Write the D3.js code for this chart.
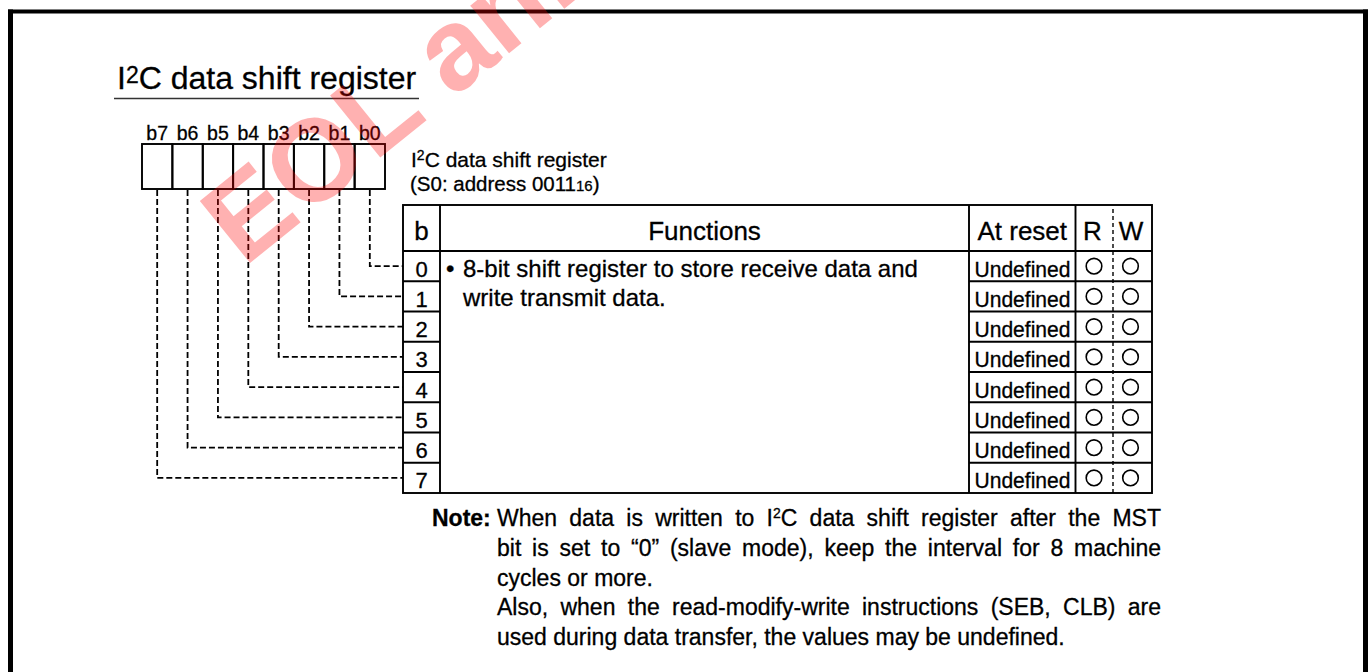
<!DOCTYPE html>
<html><head><meta charset="utf-8">
<script src="https://cdn.jsdelivr.net/npm/d3@7"></script>
<style>
html,body{margin:0;padding:0;background:#fff;}
svg{display:block;}
text{font-family:"Liberation Sans",Arial,Helvetica,sans-serif;fill:#000;stroke:#000;stroke-width:0.3px;}
text.wm{stroke:none;}
</style></head><body>
<svg id="chart" width="1372" height="672"></svg>
<script>
// ---------- data ----------
const titleText = ["I","2","C data shift register"];
const bitNames = ["b7","b6","b5","b4","b3","b2","b1","b0"];
const rowBits = ["0","1","2","3","4","5","6","7"];
const headerLabels = ["b","Functions","At reset","R","W"];
const atReset = ["Undefined","Undefined","Undefined","Undefined","Undefined","Undefined","Undefined","Undefined"];
const readMarks = [true,true,true,true,true,true,true,true];
const writeMarks = [true,true,true,true,true,true,true,true];
const registerName = "I²C data shift register";
const registerAddress = ["(S0: address 0011","16",")"];
const functionLines = ["8-bit shift register to store receive data and","write transmit data."];
const noteLabel = "Note:";
const noteLines = [
  "When data is written to I²C data shift register after the MST",
  "bit is set to \u201C0\u201D (slave mode), keep the interval for 8 machine",
  "cycles or more.",
  "Also, when the read-modify-write instructions (SEB, CLB) are",
  "used during data transfer, the values may be undefined."
];
const noteJustified = [true,true,false,true,false];
const watermark = "EOL announced";

// ---------- layout ----------
const svg = d3.select("#chart");
const W = 1372, H = 672;

const xBit = d3.scaleBand().domain(bitNames).range([142, 385]);
const yRow = d3.scaleBand().domain(rowBits).range([251, 493]);
const colX = {left:403, b:440, func:969, reset:1075.5, rw:1113, right:1152};
const tableTop = 205, headerBottom = 251;

function rich(sel, str, supSize, shift){
  const parts = str.split("²");
  parts.forEach((p,i)=>{
    if(i>0){
      sel.append("tspan").attr("dy",-shift).attr("font-size",supSize).text("2");
      sel.append("tspan").attr("dy",shift).text(p);
    } else sel.append("tspan").text(p);
  });
}

// frame
const frame = svg.append("g").attr("stroke","#000").attr("fill","none");
frame.append("line").attr("x1",10.5).attr("x2",10.5).attr("y1",9.5).attr("y2",H).attr("stroke-width",5);
frame.append("line").attr("x1",8).attr("x2",1368).attr("y1",11.5).attr("y2",11.5).attr("stroke-width",4);
frame.append("line").attr("x1",1365.5).attr("x2",1365.5).attr("y1",9.5).attr("y2",H).attr("stroke-width",5);

// title
const title = svg.append("text").attr("x",117).attr("y",89).attr("font-size",32);
title.append("tspan").text(titleText[0]);
title.append("tspan").attr("dy",-6).attr("font-size",23).text(titleText[1]);
title.append("tspan").attr("dy",6).text(titleText[2]);
svg.append("line").attr("x1",114).attr("x2",419).attr("y1",98.5).attr("y2",98.5)
  .attr("stroke","#333").attr("stroke-width",1.3);

// bit boxes
svg.append("g").selectAll("text").data(bitNames).join("text")
  .attr("x",d=>xBit(d)+xBit.bandwidth()/2).attr("y",140)
  .attr("text-anchor","middle").attr("font-size",19.5).text(d=>d);
svg.append("g").selectAll("rect").data(bitNames).join("rect")
  .attr("x",d=>xBit(d)).attr("y",144).attr("width",xBit.bandwidth()).attr("height",45)
  .attr("fill","none").attr("stroke","#000").attr("stroke-width",1.9);

// register label
const rl = svg.append("text").attr("x",411).attr("y",167).attr("font-size",21);
rich(rl, registerName, 14, 7);
const ra = svg.append("text").attr("x",410).attr("y",191).attr("font-size",20.5);
ra.append("tspan").text(registerAddress[0]);
ra.append("tspan").attr("font-size",15).text(registerAddress[1]);
ra.append("tspan").text(registerAddress[2]);

// connectors
svg.append("g").selectAll("path").data(rowBits).join("path")
  .attr("d",d=>{
    const x = xBit("b"+d)+xBit.bandwidth()/2;
    const y = yRow(d)+yRow.bandwidth()/2;
    return `M${x},190 V${y} H${colX.left}`;
  })
  .attr("fill","none").attr("stroke","#000").attr("stroke-width",1.8).attr("stroke-dasharray","6,3");

// table
const tg = svg.append("g").attr("stroke","#000").attr("stroke-width",1.9).attr("fill","none");
tg.append("rect").attr("x",colX.left).attr("y",tableTop).attr("width",colX.right-colX.left).attr("height",493-tableTop);
tg.append("line").attr("x1",colX.left).attr("x2",colX.right).attr("y1",headerBottom).attr("y2",headerBottom);
[colX.b, colX.func, colX.reset].forEach(x=>{
  tg.append("line").attr("x1",x).attr("x2",x).attr("y1",tableTop).attr("y2",493);
});
tg.append("line").attr("x1",colX.rw).attr("x2",colX.rw).attr("y1",tableTop+4).attr("y2",493)
  .attr("stroke-width",1.4).attr("stroke-dasharray","4,3");
tg.selectAll("line.rowb").data(rowBits.slice(1)).join("line").attr("class","rowb")
  .attr("x1",colX.left).attr("x2",colX.b).attr("y1",d=>yRow(d)).attr("y2",d=>yRow(d));
tg.selectAll("line.rowr").data(rowBits.slice(1)).join("line").attr("class","rowr")
  .attr("x1",colX.func).attr("x2",colX.right).attr("y1",d=>yRow(d)).attr("y2",d=>yRow(d));

// header
const headerX = [(colX.left+colX.b)/2, (colX.b+colX.func)/2, (colX.func+colX.reset)/2, 1092.5, 1131];
svg.append("g").selectAll("text").data(headerLabels).join("text")
  .attr("x",(d,i)=>headerX[i]).attr("y",240).attr("text-anchor","middle").attr("font-size",26).text(d=>d);

// rows
svg.append("g").selectAll("text").data(rowBits).join("text")
  .attr("x",(colX.left+colX.b)/2).attr("y",d=>yRow(d)+25.5).attr("text-anchor","middle")
  .attr("font-size",22).text(d=>d);
svg.append("g").selectAll("text").data(atReset).join("text")
  .attr("x",974.5).attr("y",(d,i)=>yRow(rowBits[i])+25.5).attr("font-size",21.5)
  .attr("textLength",96).attr("lengthAdjust","spacingAndGlyphs").text(d=>d);
svg.append("g").selectAll("circle").data(readMarks).join("circle")
  .attr("cx",1094).attr("cy",(d,i)=>yRow(rowBits[i])+yRow.bandwidth()/2).attr("r",d=>d?7.8:0)
  .attr("fill","none").attr("stroke","#000").attr("stroke-width",1.6);
svg.append("g").selectAll("circle").data(writeMarks).join("circle")
  .attr("cx",1130.5).attr("cy",(d,i)=>yRow(rowBits[i])+yRow.bandwidth()/2).attr("r",d=>d?7.8:0)
  .attr("fill","none").attr("stroke","#000").attr("stroke-width",1.6);

// functions text
svg.append("text").attr("x",446).attr("y",277).attr("font-size",24).text("\u2022");
svg.append("g").selectAll("text").data(functionLines).join("text")
  .attr("x",463).attr("y",(d,i)=>277+i*28.5).attr("font-size",24).text(d=>d);

// note
svg.append("text").attr("x",432).attr("y",526).attr("font-size",23).attr("font-weight","bold").text(noteLabel);
const noteRight = 1161;
noteLines.forEach((line,i)=>{
  const t = svg.append("text").attr("x",497).attr("y",526+i*29.8).attr("font-size",23);
  rich(t, line, 14, 8);
  if(noteJustified[i]){
    const len = t.node().getComputedTextLength();
    const spaces = (line.match(/ /g)||[]).length;
    const extra = (noteRight-497-len)/spaces;
    t.style("word-spacing", extra+"px");
  }
});

// watermark
svg.append("text").attr("class","wm").attr("transform","translate(244,268) rotate(-39)")
  .attr("font-size",116).attr("font-weight","bold").style("fill","#ff0000").attr("opacity",0.3)
  .text(watermark);
</script>
</body></html>
